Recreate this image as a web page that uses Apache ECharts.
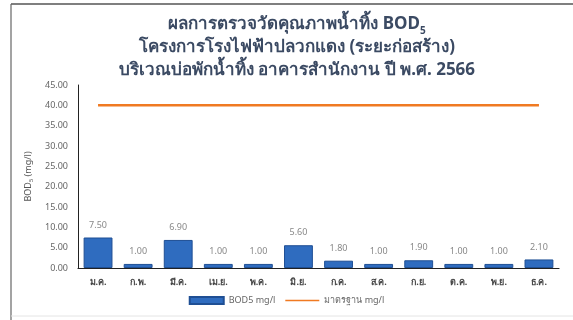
<!DOCTYPE html>
<html>
<head>
<meta charset="utf-8">
<script src="https://cdn.jsdelivr.net/npm/echarts@6/dist/echarts.min.js"></script>
<style>
  html, body { margin: 0; padding: 0; background: #ffffff; }
  #chart { width: 573px; height: 320px; }
</style>
</head>
<body>
<div id="chart"></div>
<script>
// Monthly BOD5 readings at the office building effluent pond, 2566
const months = ['ม.ค.', 'ก.พ.', 'มี.ค.', 'เม.ย.', 'พ.ค.', 'มิ.ย.', 'ก.ค.', 'ส.ค.', 'ก.ย.', 'ต.ค.', 'พ.ย.', 'ธ.ค.'];
const bodValues = [7.50, 1.00, 6.90, 1.00, 1.00, 5.60, 1.80, 1.00, 1.90, 1.00, 1.00, 2.10];
const standardValues = [40, 40, 40, 40, 40, 40, 40, 40, 40, 40, 40, 40];
const yTicks = { min: 0, max: 45, interval: 5 };

const fontFam = '"Noto Sans", "DejaVu Sans", sans-serif';
const chart = echarts.init(document.getElementById('chart'));

chart.setOption({
  animation: false,
  backgroundColor: '#ffffff',
  textStyle: { fontFamily: fontFam },
  graphic: [
    { type: 'line', shape: { x1: 11, y1: 4, x2: 573, y2: 4 }, style: { stroke: '#555', lineWidth: 1.5 } },
    { type: 'line', shape: { x1: 11, y1: 4, x2: 11, y2: 320 }, style: { stroke: '#666', lineWidth: 1.2 } },
    { type: 'line', shape: { x1: 11, y1: 316, x2: 573, y2: 316 }, style: { stroke: '#e4e4e4', lineWidth: 1 } }
  ],
  title: {
    left: 292,
    top: 8,
    textAlign: 'center',
    text: '{t|ผลการตรวจวัดคุณภาพน้ำทิ้ง BOD}{s|5}\n{t|โครงการโรงไฟฟ้าปลวกแดง (ระยะก่อสร้าง)}\n{t|บริเวณบ่อพักน้ำทิ้ง อาคารสำนักงาน ปี พ.ศ. 2566}',
    textStyle: {
      rich: {
        t: { fontSize: 17, fontWeight: 'bold', color: '#3b4a63', fontFamily: fontFam, lineHeight: 23 },
        s: { fontSize: 10, fontWeight: 'bold', color: '#3b4a63', fontFamily: fontFam, verticalAlign: 'bottom', padding: [9, 0, 0, 0], lineHeight: 23 }
      }
    }
  },
  legend: {
    bottom: 10,
    left: 'center',
    itemGap: 10,
    itemWidth: 34,
    itemHeight: 7,
    textStyle: { fontSize: 9, color: '#666' },
    data: [
      { name: 'BOD5 mg/l', icon: 'rect' },
      { name: 'มาตรฐาน mg/l', icon: 'path://M0,0H40V1.6H0Z' }
    ]
  },
  grid: { left: 78, right: 14, top: 85, bottom: 52 },
  xAxis: {
    type: 'category',
    data: months,
    axisTick: { show: false },
    axisLine: { lineStyle: { color: '#222', width: 1.2 } },
    axisLabel: { color: '#444', fontSize: 9, fontWeight: 'bold', margin: 10 }
  },
  yAxis: {
    type: 'value',
    min: yTicks.min,
    max: yTicks.max,
    interval: yTicks.interval,
    name: '{a|BOD}{b|5}{a| (mg/l)}',
    nameLocation: 'middle',
    nameRotate: 90,
    nameGap: 38,
    nameTextStyle: {
      rich: {
        a: { fontSize: 9, color: '#555' },
        b: { fontSize: 6, color: '#555', padding: [5, 0, 0, 0] }
      }
    },
    axisLine: { show: true, lineStyle: { color: '#222', width: 1 } },
    axisTick: { show: false },
    splitLine: { show: false },
    axisLabel: { color: '#666', fontSize: 9, margin: 10, formatter: v => v.toFixed(2) }
  },
  series: [
    {
      name: 'BOD5 mg/l',
      type: 'bar',
      data: bodValues,
      barWidth: '72%',
      itemStyle: { color: '#2f6cbf', borderColor: '#1f4f94', borderWidth: 1 },
      label: {
        show: true,
        position: 'top',
        distance: 8,
        color: '#888',
        fontSize: 9,
        formatter: p => p.value.toFixed(2)
      }
    },
    {
      name: 'มาตรฐาน mg/l',
      type: 'line',
      data: standardValues,
      symbol: 'none',
      lineStyle: { color: '#f07a22', width: 2.5 },
      itemStyle: { color: '#f07a22' }
    }
  ]
});
</script>
</body>
</html>
